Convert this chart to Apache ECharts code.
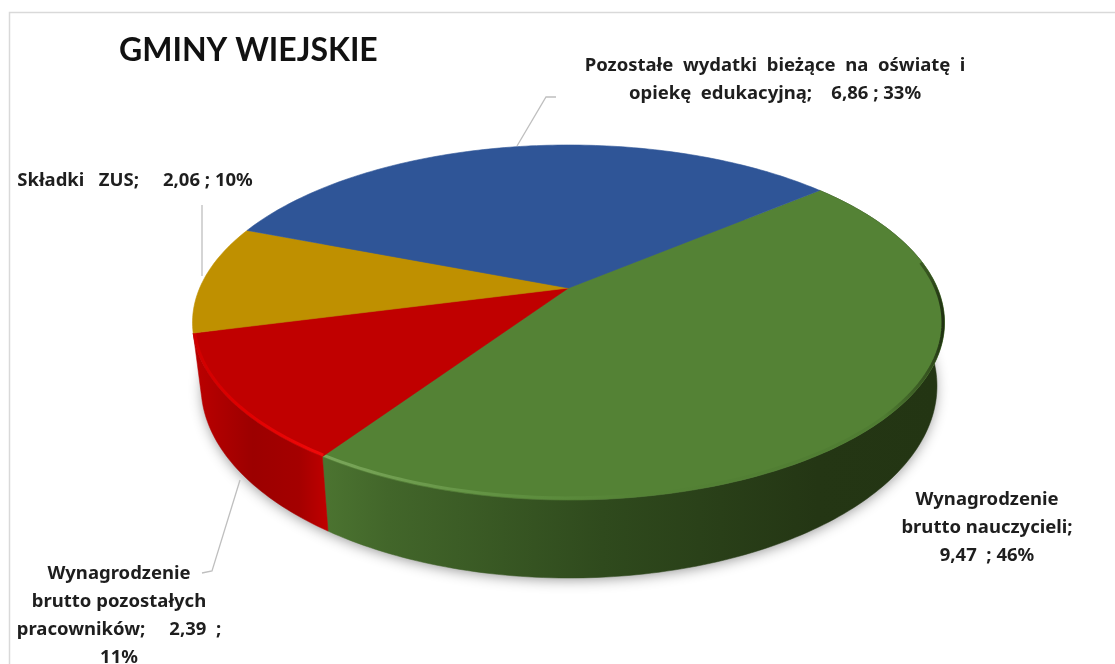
<!DOCTYPE html>
<html><head><meta charset="utf-8">
<style>html,body{margin:0;padding:0;background:#fff}#c{width:1115px;height:664px;filter:blur(0.45px)}</style>
<script src="https://cdn.jsdelivr.net/npm/echarts@6/dist/echarts.min.js"></script>
</head><body><div id="c"></div>
<script>
// Chart data, clockwise from the green / blue boundary
const names = ['Wynagrodzenie brutto nauczycieli','Wynagrodzenie brutto pozostałych pracowników','Składki ZUS','Pozostałe wydatki bieżące na oświatę i opiekę edukacyjną'];
const values = [9.47, 2.39, 2.06, 6.86];
const percents = [46, 11, 10, 33];
const topColors = ['#548235', '#c00000', '#bf9000', '#2f5597'];
const titleText = 'GMINY WIEJSKIE';

const fmt = v => v.toFixed(2).replace('.', ',');
const labelLines = [
  ['Wynagrodzenie', 'brutto nauczycieli;', fmt(values[0]) + '  ; ' + percents[0] + '%'],
  ['Wynagrodzenie', 'brutto pozostałych', 'pracowników;     ' + fmt(values[1]) + '  ;', percents[1] + '%'],
  ['Składki   ZUS;     ' + fmt(values[2]) + ' ; ' + percents[2] + '%'],
  ['Pozostałe  wydatki  bieżące  na  oświatę  i', 'opiekę  edukacyjną;    ' + fmt(values[3]) + ' ; ' + percents[3] + '%']
];
const labelPos = [[987, 500], [119, 574], [135, 181], [775, 66]];
const leaders = [
  [[517, 146], [546, 97], [556, 97]],
  [[202, 205], [202, 276]],
  [[240, 480], [212, 571], [202, 573]]
];

// Projection of the tilted disc (perspective) and its lower rim
const P = {cx: 568.5, apexY: 288, a: 368.8, b: 170.8, k: -0.1944, startDeg: -40};
const TOP = {cx: 568.5, cy: 322.5, rx: 376, ry: 177.5};
const BOT = {cx: 569, cy: 386, rx: 368, ry: 192};
const total = values.reduce((s, v) => s + v, 0);
const rad = d => d * Math.PI / 180;
function rimTop(deg) {
  const x = Math.cos(rad(deg)), y = Math.sin(rad(deg)), w = 1 + P.k * y;
  return [P.cx + P.a * x / w, P.apexY + P.b * y / w];
}
function rimBottom(deg) {
  const p = rimTop(deg);
  return [BOT.cx + (p[0] - TOP.cx) / TOP.rx * BOT.rx, BOT.cy + (p[1] - TOP.cy) / TOP.ry * BOT.ry];
}
function span(i) {
  let s = P.startDeg;
  for (let j = 0; j < i; j++) s += values[j] / total * 360;
  return [s, s + values[i] / total * 360];
}
function arc(a, b, fn) {
  const out = [], n = Math.max(2, Math.ceil(Math.abs(b - a)));
  for (let i = 0; i <= n; i++) out.push(fn(a + (b - a) * i / n));
  return out;
}
const hGrad = (stops, x0, x1) => ({type: 'linear', x: x0, y: 0, x2: x1, y2: 0, global: true,
  colorStops: stops.map(s => ({offset: s[0], color: s[1]}))});
const wallFill = [
  hGrad([[0,'#4b7330'],[0.1,'#42662a'],[0.45,'#2f4a1d'],[0.8,'#243614'],[1,'#233513']], 327, 940),
  hGrad([[0,'#b80000'],[0.4,'#9c0000'],[0.75,'#a40000'],[1,'#c40000']], 200, 332)
];
const rimStroke = [
  hGrad([[0,'#7aa65a'],[0.3,'#5f9040'],[0.5,'#548235'],[0.9,'#4f7c32'],[0.975,'#35521f'],[1,'#1d2d10']], 327, 945),
  hGrad([[0,'#d00000'],[0.4,'#e00000'],[1,'#f00a0a']], 195, 327)
];

const wallSeries = {
  type: 'custom', coordinateSystem: 'none', silent: true, z: 2,
  data: values.map(v => [v]),
  renderItem(params) {
    const i = params.dataIndex, [a, b] = span(i);
    if (!wallFill[i]) return null; // back slices have no visible wall
    return {type: 'polygon', shape: {points: arc(a, b, rimTop).concat(arc(b, a, rimBottom))},
      style: {fill: wallFill[i], stroke: wallFill[i], lineWidth: 0.5}};
  }
};
const topSeries = {
  type: 'custom', coordinateSystem: 'none', silent: true, z: 3,
  data: values.map(v => [v]),
  renderItem(params) {
    const i = params.dataIndex, [a, b] = span(i);
    const children = [{type: 'polygon', shape: {points: [[P.cx, P.apexY]].concat(arc(a, b, rimTop))},
      style: {fill: topColors[i], stroke: topColors[i], lineWidth: 0.6}}];
    if (i < 2) {
      const from = i === 0 ? Math.max(a, -9) : a;
      children.push({type: 'polyline', shape: {points: arc(from, b, d => {
        const p = rimTop(d); return [p[0] + (TOP.cx - p[0]) * 0.004, p[1] + (TOP.cy - p[1]) * 0.012];
      })}, style: {fill: 'none', stroke: rimStroke[i], lineWidth: 3}});
    }
    return {type: 'group', children};
  }
};
const leaderSeries = leaders.map(pts => ({
  type: 'custom', coordinateSystem: 'none', silent: true, z: 4,
  data: [[pts.length]],
  renderItem: () => ({type: 'polyline', shape: {points: pts}, style: {fill: 'none', stroke: '#bfbfbf', lineWidth: 1.3}})
}));

const graphic = [
  {type: 'rect', z: -1, shape: {x: 9.5, y: 12.5, width: 1130, height: 680}, style: {fill: '#fff', stroke: '#d9d9d9', lineWidth: 1.5}},
  {type: 'ellipse', z: 0, shape: {cx: BOT.cx, cy: BOT.cy, rx: BOT.rx - 2, ry: BOT.ry - 2},
    style: {fill: '#777', shadowBlur: 14, shadowColor: 'rgba(0,0,0,0.45)', shadowOffsetX: 0, shadowOffsetY: 3}}
];
labelLines.forEach((lines, i) => lines.forEach((t, j) => graphic.push({
  type: 'text', z: 10, x: labelPos[i][0], y: labelPos[i][1] + j * 28,
  style: {text: t, fill: '#1e1e1e', font: 'bold 18.5px "Noto Sans"', align: 'center', verticalAlign: 'middle'}
})));

const chart = echarts.init(document.getElementById('c'), null, {renderer: 'canvas'});
chart.setOption({
  animation: false,
  backgroundColor: '#fff',
  title: {text: titleText, left: 119, top: 35, padding: 0,
    textStyle: {fontFamily: 'Lato', fontWeight: 'bold', fontSize: 32, color: '#111'}},
  tooltip: {show: false},
  graphic,
  series: [wallSeries, topSeries].concat(leaderSeries)
});
</script></body></html>
